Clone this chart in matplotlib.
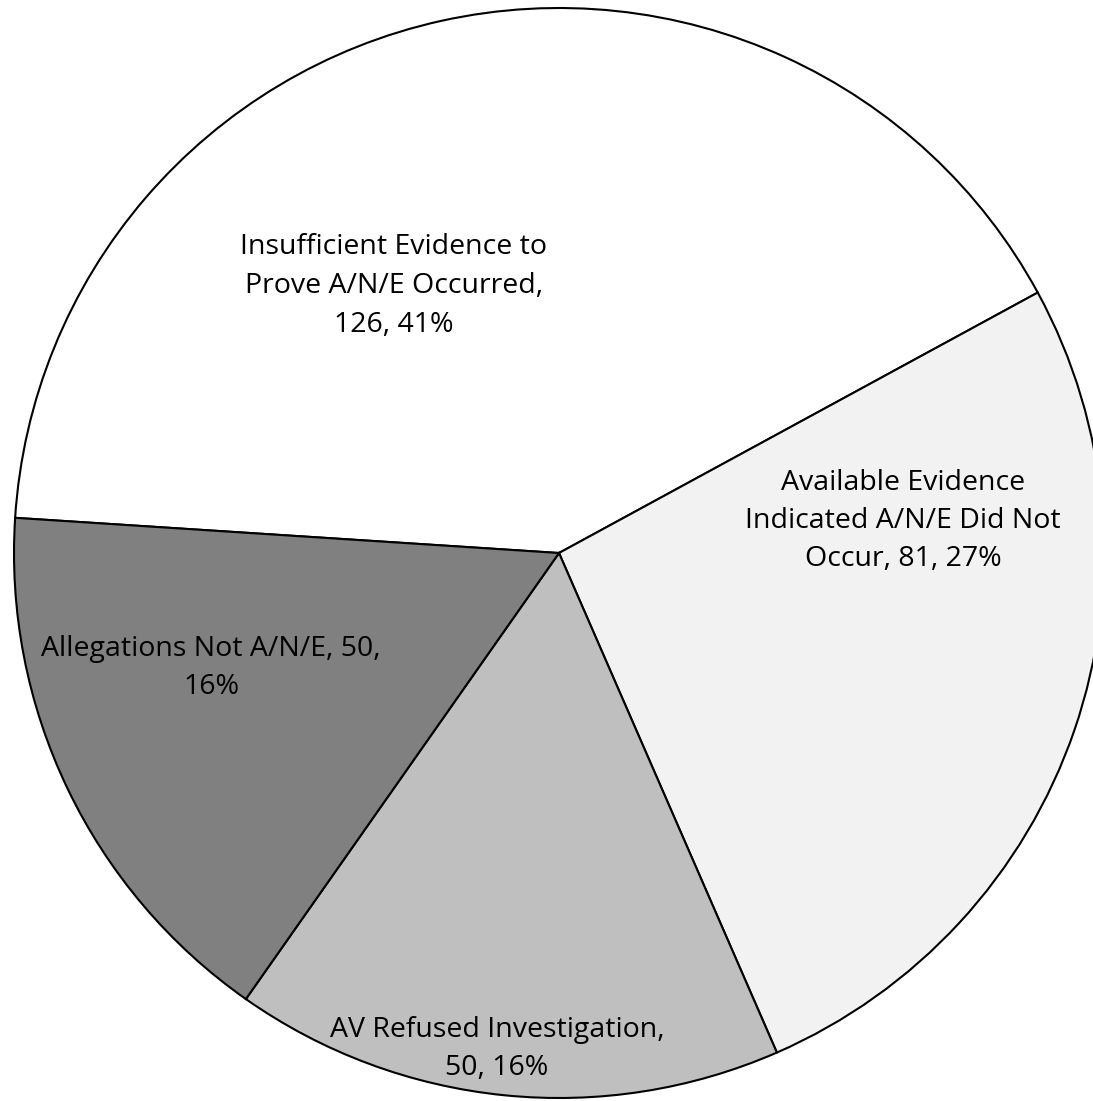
import matplotlib
matplotlib.use("Agg")
import matplotlib.pyplot as plt

categories = ["Insufficient Evidence to\nProve A/N/E Occurred",
              "Available Evidence\nIndicated A/N/E Did Not\nOccur",
              "AV Refused Investigation",
              "Allegations Not A/N/E"]
values = [126, 81, 50, 50]
percents = ["41%", "27%", "16%", "16%"]
label_text = [
    "Insufficient Evidence to\nProve A/N/E Occurred,\n126, 41%",
    "Available Evidence\nIndicated A/N/E Did Not\nOccur, 81, 27%",
    "AV Refused Investigation,\n50, 16%",
    "Allegations Not A/N/E, 50,\n16%",
]
colors = ["#ffffff", "#f2f2f2", "#bfbfbf", "#808080"]

W, H = 1093, 1101
fig = plt.figure(figsize=(W / 100, H / 100), dpi=100)
ax = fig.add_axes([0, 0, 1, 1])

cx, cy, R = 559, H - 553, 545
ax.pie(values, colors=colors, startangle=176.3, counterclock=False,
       radius=R, center=(cx, cy),
       wedgeprops=dict(edgecolor="black", linewidth=1.5), frame=True)
ax.set_xlim(0, W)
ax.set_ylim(0, H)
ax.set_aspect("auto")
ax.axis("off")

pos = [(394, H - 286), (903, H - 521), (497, H - 1049), (211, H - 668)]
for (x, y), t in zip(pos, label_text):
    ax.text(x, y, t, ha="center", va="center", multialignment="center",
            fontsize=20.5, family=["Open Sans", "DejaVu Sans"], linespacing=1.5,
            color="black")

fig.savefig("out.png", dpi=100)
